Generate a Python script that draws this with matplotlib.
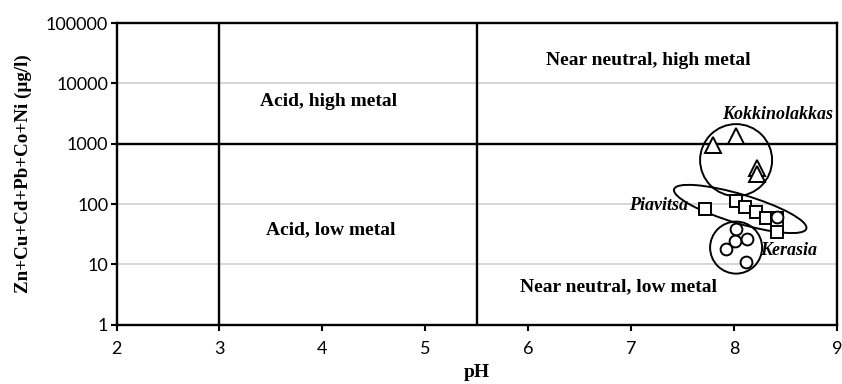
import matplotlib
matplotlib.use("Agg")
import matplotlib.pyplot as plt
from matplotlib.patches import Ellipse
from matplotlib.transforms import ScaledTranslation

# Kokkinolakkas (triangles), Piavitsa (squares), Kerasia (circles)
kok_ph = [7.80, 8.02, 8.22, 8.22]
kok_metal = [970, 1350, 400, 310]

pia_ph = [7.72, 8.02, 8.11, 8.21, 8.31, 8.42, 8.42, 8.42]
pia_metal = [82, 113, 88, 74, 58, 58, 45, 34]

ker_ph = [8.02, 8.01, 8.13, 7.92, 8.12, 8.42]
ker_metal = [38, 24, 26, 18, 11, 60]

# Ficklin-type field boundaries
ph_limits = [3, 5.5]
metal_limit = 1000

field_labels = ["Acid, high metal", "Acid, low metal",
                "Near neutral, high metal", "Near neutral, low metal"]
field_pos = [(4.06, 5000), (4.08, 38), (7.17, 24000), (6.88, 4.3)]

serif = "Liberation Serif"
fig = plt.figure(figsize=(8.42, 3.84), dpi=100)
ax = fig.add_axes([0.1384, 0.1542, 0.8556, 0.7859])

ax.set_yscale("log")
ax.set_xlim(2, 9)
ax.set_ylim(1, 100000)
ax.set_xticks(range(2, 10))
ax.set_yticks([1, 10, 100, 1000, 10000, 100000])
ax.set_yticklabels(["1", "10", "100", "1000", "10000", "100000"])
ax.minorticks_off()

for y in [10, 100, 10000]:
    ax.axhline(y, color="#d0d0d0", lw=1.2, zorder=0)
ax.axhline(metal_limit, color="black", lw=1.7, zorder=1)
for x in ph_limits:
    ax.axvline(x, color="black", lw=1.7, zorder=1)

for s in ax.spines.values():
    s.set_linewidth(1.7)
ax.tick_params(axis="both", width=1.5, length=4, labelsize=13)
ax.tick_params(axis="x", pad=8)
ax.tick_params(axis="y", pad=2)
for lab in ax.get_xticklabels() + ax.get_yticklabels():
    lab.set_fontfamily("Lato")

mk = dict(mfc="white", mec="black", mew=1.4, ls="none", zorder=4)
ax.plot(kok_ph, kok_metal, marker="^", ms=11.5, **mk)
ax.plot(pia_ph, pia_metal, marker="s", ms=8, **mk)
ax.plot(ker_ph, ker_metal, marker="o", ms=8.5, **mk)

# group outlines, sized in inches around a data-space centre
def outline(x, y, w, h, angle=0):
    tr = fig.dpi_scale_trans + ScaledTranslation(x, y, ax.transData)
    ax.add_patch(Ellipse((0, 0), w, h, angle=angle, transform=tr,
                         fill=False, ec="black", lw=1.4, zorder=3))

outline(8.02, 535, 0.72, 0.72)
outline(8.06, 83, 1.38, 0.29, angle=-16.6)
outline(8.02, 19, 0.52, 0.52)

grp = dict(style="italic", weight="bold", family=serif, fontsize=13)
ax.text(8.42, 2550, "Kokkinolakkas", ha="center", va="baseline", **grp)
ax.text(7.555, 93, "Piavitsa", ha="right", va="center", **grp)
ax.text(8.25, 16.7, "Kerasia", ha="left", va="center", **grp)

for txt, (x, y) in zip(field_labels, field_pos):
    ax.text(x, y, txt, family=serif, weight="bold", fontsize=14,
            ha="center", va="center")

ax.set_xlabel("pH", family=serif, weight="bold", fontsize=14, labelpad=5)
ax.set_ylabel("Zn+Cu+Cd+Pb+Co+Ni (\u00b5g/l)", family=serif, weight="bold",
              fontsize=13.7)
ax.yaxis.set_label_coords(-0.118, 0.5)

fig.savefig("out.png", dpi=100)
